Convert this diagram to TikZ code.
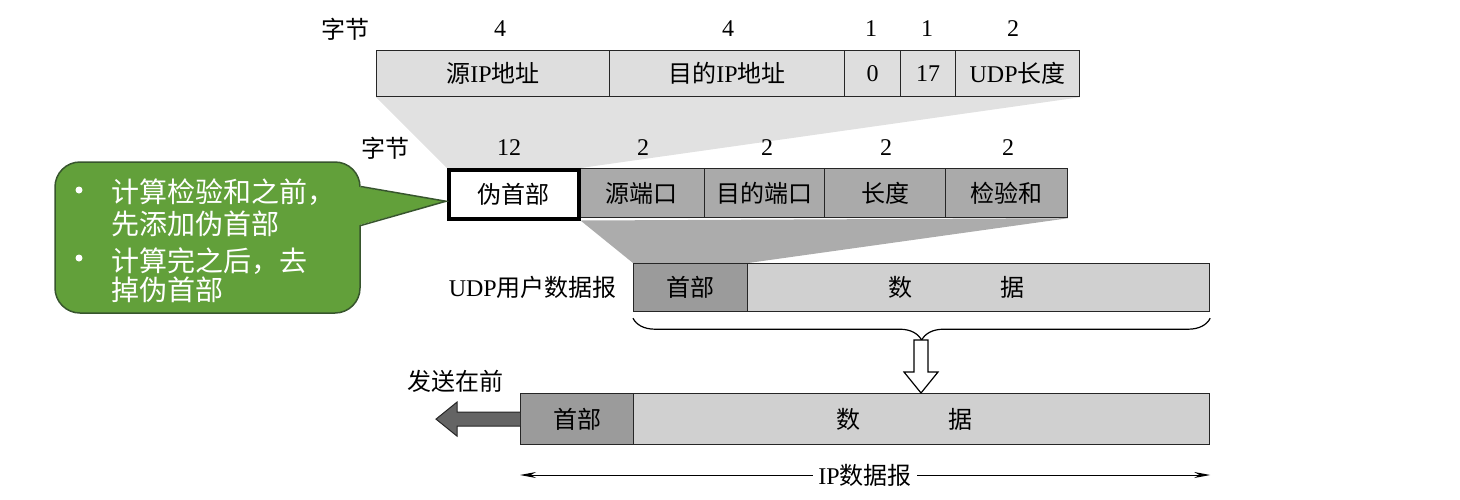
\documentclass[tikz,border=0pt]{standalone}
\usepackage{fontspec}
\setmainfont{Liberation Serif}
\newfontfamily\cjk{Noto Sans CJK SC}
\newcommand\zh[1]{{\cjk #1}}
\usetikzlibrary{decorations.pathreplacing,arrows.meta}
\pgfdeclarelayer{bg}
\pgfsetlayers{bg,main}
\definecolor{lgray}{RGB}{222,222,222}
\definecolor{trapA}{RGB}{225,225,225}
\definecolor{mgray}{RGB}{170,170,170}
\definecolor{trapB}{RGB}{172,172,172}
\definecolor{hgray}{RGB}{155,155,155}
\definecolor{dgray}{RGB}{208,208,208}
\definecolor{agray}{RGB}{100,100,100}
\definecolor{cgreen}{RGB}{98,160,58}
\definecolor{cborder}{RGB}{55,85,45}
\begin{document}
\begin{tikzpicture}[x=1pt,y=-1pt,
  every node/.style={font=\fontsize{24}{28}\selectfont, inner sep=0pt},
  cell/.style={draw=black!85, line width=1.2pt, anchor=north west},
  rowA/.style={cell, fill=lgray, minimum height=46pt},
  rowB/.style={cell, fill=mgray, minimum height=49pt},
  rowC/.style={cell, minimum height=48pt},
  rowD/.style={cell, minimum height=51pt},
  ctext/.style={font=\fontsize{28}{32}\selectfont\cjk, text=white, anchor=west},
  cbullet/.style={circle, fill=white, minimum size=7pt}]
\useasboundingbox (0,0) rectangle (1460,499);

% top row
\node[rowA, minimum width=233pt] (srcip) at (376,50) {\zh{源}IP\zh{地址}};
\node[rowA, minimum width=235pt] (dstip) at (609,50) {\zh{目的}IP\zh{地址}};
\node[rowA, minimum width=56pt] (zero) at (844,50) {0};
\node[rowA, minimum width=55pt] (proto) at (900,50) {17};
\node[rowA, minimum width=124pt] (udplen) at (955,50) {UDP\zh{长度}};
\node (bA) at (345,29) {\zh{字节}};
\node (nA1) at (500,29) {4};
\node (nA2) at (728,29) {4};
\node (nA3) at (871,29) {1};
\node (nA4) at (927,29) {1};
\node (nA5) at (1013,29) {2};

% second row
\node[rowB, minimum width=127pt] (sport) at (577,168) {\zh{源端口}};
\node[rowB, minimum width=120pt] (dport) at (704,168) {\zh{目的端口}};
\node[rowB, minimum width=121pt] (ulen) at (824,168) {\zh{长度}};
\node[rowB, minimum width=122pt] (cks) at (945,168) {\zh{检验和}};
\node[cell, draw=black, line width=3.5pt, fill=white, minimum width=130pt, minimum height=49pt] (pseudo) at (447,168) {\zh{伪首部}};
\node (bB) at (385,148) {\zh{字节}};
\node (nB1) at (509,148) {12};
\node (nB2) at (643,148) {2};
\node (nB3) at (767,148) {2};
\node (nB4) at (886,148) {2};
\node (nB5) at (1008,148) {2};

% UDP datagram
\node[rowC, fill=hgray, minimum width=114pt] (udph) at (633,263) {\zh{首部}};
\node[rowC, fill=dgray, minimum width=462pt] (udpd) at (747,263) {};
\node (udpdt) at (956,287) {\zh{数}\hspace{88pt}\zh{据}};
\node[anchor=east] (udplabel) at (617,287) {UDP\zh{用户数据报}};

% IP datagram
\node[rowD, fill=hgray, minimum width=113pt] (iph) at (520,393) {\zh{首部}};
\node[rowD, fill=dgray, minimum width=576pt] (ipd) at (633,393) {};
\node (ipdt) at (904,419) {\zh{数}\hspace{88pt}\zh{据}};
\node (send) at (455,381) {\zh{发送在前}};

% trapezoids
\begin{pgfonlayer}{bg}
\fill[trapA] (srcip.south west) -- (udplen.south east) -- (pseudo.north east) -- (pseudo.north west) -- cycle;
\fill[trapB] (pseudo.south east) -- (cks.south east) -- (udph.north east) -- (udph.north west) -- cycle;
\end{pgfonlayer}

% brace
\draw[decorate, decoration={brace, mirror, amplitude=22pt}, line width=1.2pt]
  ([yshift=-6pt]udph.south west) -- ([yshift=-6pt]udpd.south east);
\coordinate (atop) at (921,340);
\coordinate (abot) at (atop |- ipd.north);
\draw[fill=white, line width=1.2pt, line join=miter]
  ([xshift=-7pt]atop) -- ([xshift=-7pt,yshift=21pt]abot) -- ([xshift=-17pt,yshift=21pt]abot)
  -- (abot) -- ([xshift=17pt,yshift=21pt]abot) -- ([xshift=7pt,yshift=21pt]abot)
  -- ([xshift=7pt]atop) -- cycle;

% send-first arrow
\draw[fill=agray, draw=black!85, line width=1pt]
  ([yshift=7pt]iph.west) -- ++(-63,0) -- ++(0,-10) -- ++(-21,17) -- ++(21,17) -- ++(0,-10)
  -- ([yshift=-7pt]iph.west);

% IP datagram dimension
\coordinate (dl) at (iph.west |- 0,475);
\coordinate (dr) at (ipd.east |- 0,475);
\draw[{Stealth[length=16pt,width=6pt]}-{Stealth[length=16pt,width=6pt]}, line width=1pt] (dl) -- (dr);
\node[fill=white, inner xsep=5pt, inner ysep=2pt] (iplabel) at (865,475) {IP\zh{数据报}};

% callout
\node[draw=cborder, line width=1.5pt, fill=cgreen, rounded corners=25pt,
  minimum width=305pt, minimum height=151pt] (callout) at (207.5,237.5) {};
\coordinate (ptip) at ([xshift=-1pt,yshift=-7pt]pseudo.west);
\fill[cgreen] ([xshift=-3pt,yshift=51pt]callout.east) -- (ptip) -- ([xshift=-3pt,yshift=12pt]callout.east) -- cycle;
\draw[cborder, line width=1.5pt] ([yshift=51pt]callout.east) -- (ptip) -- ([yshift=12pt]callout.east);
\node[cbullet] (b1) at (79,190) {};
\node[ctext] (t1) at (111,192) {计算检验和之前，};
\node[ctext] (t2) at (111,224) {先添加伪首部};
\node[cbullet] (b2) at (79,258) {};
\node[ctext] (t3) at (111,261) {计算完之后，去};
\node[ctext] (t4) at (111,290) {掉伪首部};
\end{tikzpicture}
\end{document}
